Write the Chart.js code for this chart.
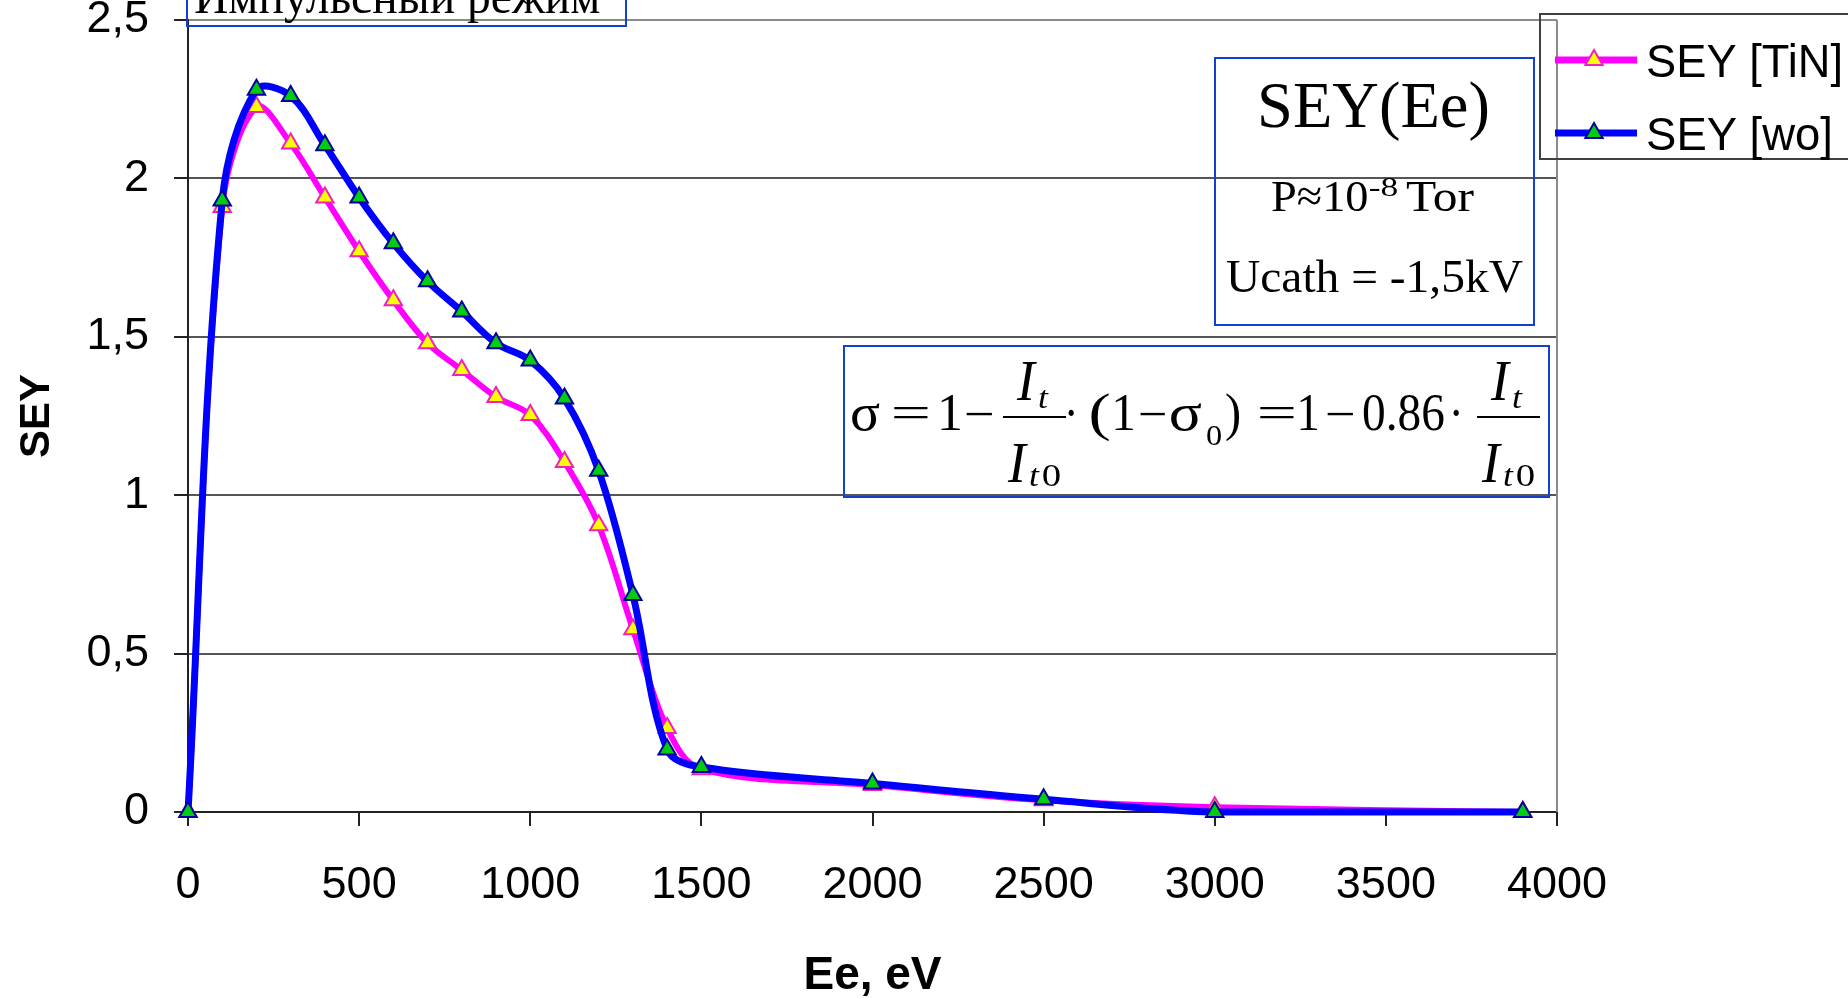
<!DOCTYPE html>
<html lang="ru">
  <head>
    <meta charset="UTF-8" />
    <title>SEY(Ee)</title>
    <script src="https://cdn.jsdelivr.net/npm/chart.js@4.4.1/dist/chart.umd.min.js"></script>
    <style>
      html,
      body {
        margin: 0;
        padding: 0;
        background: #fff;
        overflow: hidden;
      }
      #wrap {
        position: relative;
        width: 1848px;
        height: 998px;
      }
    </style>
  </head>
  <body>
    <div id="wrap"><canvas id="sey"></canvas></div>

    <script>
      // electron energy, eV
      const energy = [0, 100, 200, 300, 400, 500, 600, 700, 800, 900, 1000, 1100, 1200, 1300, 1400, 1500, 2000, 2500, 3000, 3900];
      // secondary electron yield, TiN coated sample
      const seyTiN = [0, 1.91, 2.225, 2.11, 1.94, 1.77, 1.615, 1.48, 1.395, 1.31, 1.253, 1.105, 0.905, 0.577, 0.265, 0.135, 0.085, 0.037, 0.015, 0];
      // secondary electron yield, without coating
      const seyWo = [0, 1.93, 2.28, 2.26, 2.105, 1.94, 1.795, 1.675, 1.58, 1.48, 1.425, 1.305, 1.077, 0.685, 0.197, 0.142, 0.09, 0.04, 0, 0];

      const seriesNames = ["SEY [TiN]", "SEY [wo]"];
      const xTitle = "Ee, eV";
      const yTitle = "SEY";

      const SERIF = '"Liberation Serif", "Times New Roman", serif';
      const SANS = '"Liberation Sans", Arial, sans-serif';
      const BOX_BLUE = "#1440d0";

      function points(ys) {
        return energy.map((x, i) => ({ x: x, y: ys[i] }));
      }

      // draw text so that its glyphs span x0..x1 on the given baseline
      function drawSpan(ctx, text, x0, x1, base, size, style, family) {
        ctx.font = (style || "") + " " + size + "px " + (family || SERIF);
        const m = ctx.measureText(text);
        const w = m.actualBoundingBoxLeft + m.actualBoundingBoxRight;
        const k = x1 ? (x1 - x0) / w : 1;
        ctx.save();
        ctx.translate(x0, base);
        ctx.scale(k, 1);
        ctx.textAlign = "left";
        ctx.textBaseline = "alphabetic";
        ctx.fillText(text, m.actualBoundingBoxLeft, 0);
        ctx.restore();
      }

      function triangle(ctx, x, y, r, fill, stroke) {
        ctx.beginPath();
        for (let i = 0; i < 3; i++) {
          const a = (i * 2 * Math.PI) / 3;
          const px = x + Math.sin(a) * r;
          const py = y - Math.cos(a) * r;
          if (i === 0) ctx.moveTo(px, py);
          else ctx.lineTo(px, py);
        }
        ctx.closePath();
        ctx.fillStyle = fill;
        ctx.fill();
        ctx.lineWidth = 2;
        ctx.strokeStyle = stroke;
        ctx.stroke();
      }

      function fraction(ctx, x, barY) {
        // I_t over I_t0
        ctx.fillRect(x, barY - 1, 63, 2);
        drawSpan(ctx, "I", x + 13, x + 34, barY - 17, 56, "italic");
        drawSpan(ctx, "t", x + 36, x + 46, barY - 9, 32, "italic");
        drawSpan(ctx, "I", x + 4, x + 25, barY + 65, 56, "italic");
        drawSpan(ctx, "t", x + 27, x + 37, barY + 69, 32, "italic");
        drawSpan(ctx, "0", x + 40, x + 57, barY + 69, 32);
      }

      const plotFrame = {
        id: "plotFrame",
        beforeDatasetsDraw(chart) {
          const { ctx, chartArea: a } = chart;
          ctx.save();
          ctx.strokeStyle = "#8a8a8a";
          ctx.lineWidth = 2;
          ctx.beginPath();
          ctx.moveTo(a.right, a.top);
          ctx.lineTo(a.right, a.bottom);
          ctx.stroke();
          ctx.restore();
        },
      };

      const notes = {
        id: "notes",
        afterDraw(chart) {
          const ctx = chart.ctx;
          ctx.save();
          ctx.fillStyle = "#000";

          // mode caption at the top edge
          ctx.strokeStyle = BOX_BLUE;
          ctx.lineWidth = 2;
          ctx.strokeRect(187, -20, 439, 46);
          drawSpan(ctx, "Импульсный режим", 195, 600, 13, 48);

          // measurement conditions
          ctx.strokeRect(1215, 58, 319, 267);
          drawSpan(ctx, "SEY(Ee)", 1261, 1488, 127, 66);
          drawSpan(ctx, "P≈10", 1272, 1367, 211, 45);
          drawSpan(ctx, "-8", 1370, 1397, 196, 28);
          drawSpan(ctx, "Tor", 1406, 1474, 211, 45);
          drawSpan(ctx, "Ucath = -1,5kV", 1226, 1523, 292, 47);

          // yield formula
          ctx.strokeRect(844, 346, 705, 151);
          const b = 430;
          drawSpan(ctx, "σ", 851, 880, b, 52);
          drawSpan(ctx, "=", 894, 928, b - 3, 44);
          drawSpan(ctx, "1", 941, 960, b, 52);
          drawSpan(ctx, "−", 966, 992, b, 48);
          fraction(ctx, 1003, 417);
          drawSpan(ctx, "·", 1068, 1074, b, 52);
          drawSpan(ctx, "(", 1091, 1109, b, 52);
          drawSpan(ctx, "1", 1115, 1133, b, 52);
          drawSpan(ctx, "−", 1140, 1165, b, 48);
          drawSpan(ctx, "σ", 1170, 1202, b, 52);
          drawSpan(ctx, "0", 1207, 1221, 445, 30);
          drawSpan(ctx, ")", 1226, 1240, b, 52);
          drawSpan(ctx, "=", 1260, 1294, b - 3, 44);
          drawSpan(ctx, "1", 1300, 1317, b, 52);
          drawSpan(ctx, "−", 1327, 1353, b, 48);
          drawSpan(ctx, "0.86", 1363, 1444, b, 52);
          drawSpan(ctx, "·", 1453, 1459, b, 52);
          fraction(ctx, 1477, 417);

          // legend
          ctx.strokeStyle = "#404040";
          ctx.strokeRect(1540, 14, 330, 145);
          const ds = chart.data.datasets;
          const rows = [60, 133];
          ds.forEach((d, i) => {
            const y = rows[i];
            ctx.strokeStyle = d.borderColor;
            ctx.lineWidth = 7;
            ctx.beginPath();
            ctx.moveTo(1555, y);
            ctx.lineTo(1637, y);
            ctx.stroke();
            triangle(ctx, 1594, y, 10, d.pointBackgroundColor, d.pointBorderColor);
            ctx.fillStyle = "#000";
            drawSpan(ctx, d.label, 1648, i === 0 ? 1840 : 1830, y + 17, 47, "", SANS);
          });
          ctx.restore();
        },
      };

      const tickFont = { family: SANS, size: 45, lineHeight: 0.8 };

      new Chart(document.getElementById("sey"), {
        type: "line",
        data: {
          datasets: [
            {
              label: seriesNames[0],
              data: points(seyTiN),
              borderColor: "#ff00ff",
              borderWidth: 6,
              pointStyle: "triangle",
              pointRadius: 10,
              pointBorderWidth: 2,
              pointBackgroundColor: "#ffff00",
              pointBorderColor: "#f020c0",
              tension: 0.35,
              clip: false,
              order: 1,
            },
            {
              label: seriesNames[1],
              data: points(seyWo),
              borderColor: "#0000ff",
              borderWidth: 7,
              pointStyle: "triangle",
              pointRadius: 10,
              pointBorderWidth: 2,
              pointBackgroundColor: "#00cc10",
              pointBorderColor: "#0000a0",
              tension: 0.35,
              clip: false,
              order: 0,
            },
          ],
        },
        options: {
          responsive: true,
          maintainAspectRatio: false,
          devicePixelRatio: 1,
          animation: false,
          events: [],
          layout: { padding: { top: 20, right: 291, left: 0, bottom: 0 } },
          plugins: {
            legend: { display: false },
            tooltip: { enabled: false },
          },
          scales: {
            x: {
              type: "linear",
              min: 0,
              max: 4000,
              ticks: {
                stepSize: 500,
                autoSkip: false,
                maxRotation: 0,
                color: "#000",
                padding: 42,
                font: tickFont,
                callback: (v) => String(v),
              },
              grid: {
                drawOnChartArea: false,
                drawTicks: true,
                tickLength: 14,
                color: "#222",
                lineWidth: 2,
              },
              border: { color: "#222", width: 2 },
              title: {
                display: true,
                text: xTitle,
                color: "#000",
                font: { family: SANS, size: 46, weight: "bold", lineHeight: 0.94 },
                padding: { top: 0, bottom: 0 },
              },
              afterFit: (s) => {
                s.height = 186;
              },
            },
            y: {
              min: 0,
              max: 2.5,
              ticks: {
                stepSize: 0.5,
                color: "#000",
                padding: 25,
                font: tickFont,
                callback: (v) => String(v).replace(".", ","),
              },
              grid: {
                color: (c) => (c.tick && c.tick.value === 2.5 ? "#8a8a8a" : c.tick && c.tick.value === 0 ? "#222" : "#555"),
                lineWidth: 2,
                tickLength: 14,
                tickColor: "#222",
              },
              border: { color: "#222", width: 2 },
              title: {
                display: true,
                text: yTitle,
                color: "#000",
                font: { family: SANS, size: 42, weight: "bold" },
                padding: { top: 12, bottom: 0 },
              },
              afterFit: (s) => {
                s.width = 188;
                s.paddingTop = 0;
                s.paddingBottom = 0;
              },
            },
          },
        },
        plugins: [plotFrame, notes],
      });
    </script>
  </body>
</html>
